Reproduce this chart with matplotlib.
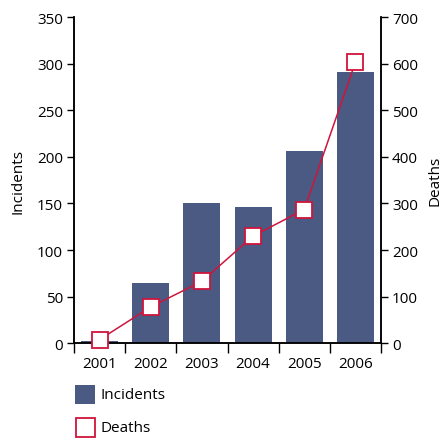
import matplotlib
matplotlib.use("Agg")
import matplotlib.pyplot as plt
from matplotlib.patches import Rectangle

years = ["2001", "2002", "2003", "2004", "2005", "2006"]
incidents = [3, 65, 150, 146, 206, 291]
deaths = [8, 78, 133, 230, 287, 603]

bar_color = "#4a5a82"
line_color = "#d0143c"
plt.rcParams["font.family"] = ["Open Sans", "DejaVu Sans"]
plt.rcParams["font.size"] = 11

W, H = 445, 439
fig = plt.figure(figsize=(W/100, H/100), dpi=100)
ax = fig.add_axes([74/W, (H-344.3)/H, (381-74)/W, (344.3-18)/H])
x = list(range(len(years)))
ax.bar(x, incidents, width=0.72, color=bar_color, zorder=2)
ax.set_xlim(-0.5, len(years) - 0.5)
ax.set_ylim(0, 350)
ax.set_yticks(range(0, 351, 50))
ax.set_xticks(x)
ax.set_xticklabels(years)
ax.tick_params(axis="x", length=0, pad=9)
ax.set_xticks([i - 0.5 for i in range(len(years) + 1)], minor=True)
ax.tick_params(axis="x", which="minor", length=7, width=1, direction="out")
ax.tick_params(axis="y", length=5, width=1, direction="out", pad=3)
ax.set_ylabel("Incidents", labelpad=8)
for s in ax.spines.values():
    s.set_linewidth(1.1)
ax.spines["top"].set_visible(False)

ax2 = ax.twinx()
ax2.plot(x, deaths, color=line_color, lw=1.1, marker="s", markersize=11.5,
         markerfacecolor="white", markeredgecolor=line_color, markeredgewidth=1.3,
         zorder=3, clip_on=False)
ax2.set_ylim(0, 700)
ax2.set_yticks(range(0, 701, 100))
ax2.tick_params(axis="y", length=5, width=1, direction="out", pad=3)
ax2.spines["top"].set_visible(False)
for s in ax2.spines.values():
    s.set_linewidth(1.1)
fig.text(443/W, 1 - 181/H, "Deaths", rotation=90, va="center", ha="right")

# legend
fig.add_artist(Rectangle((75/W, 1 - 405/H), 20/W, 19/H, transform=fig.transFigure,
                         facecolor=bar_color, edgecolor="none"))
fig.add_artist(Rectangle((75.5/W, 1 - 438/H), 19/W, 19/H, transform=fig.transFigure,
                         facecolor="white", edgecolor=line_color, linewidth=1.3))
fig.text(100/W, 1 - 396/H, "Incidents", va="center", ha="left")
fig.text(100/W, 1 - 429/H, "Deaths", va="center", ha="left")

fig.savefig("out.png", dpi=100)
